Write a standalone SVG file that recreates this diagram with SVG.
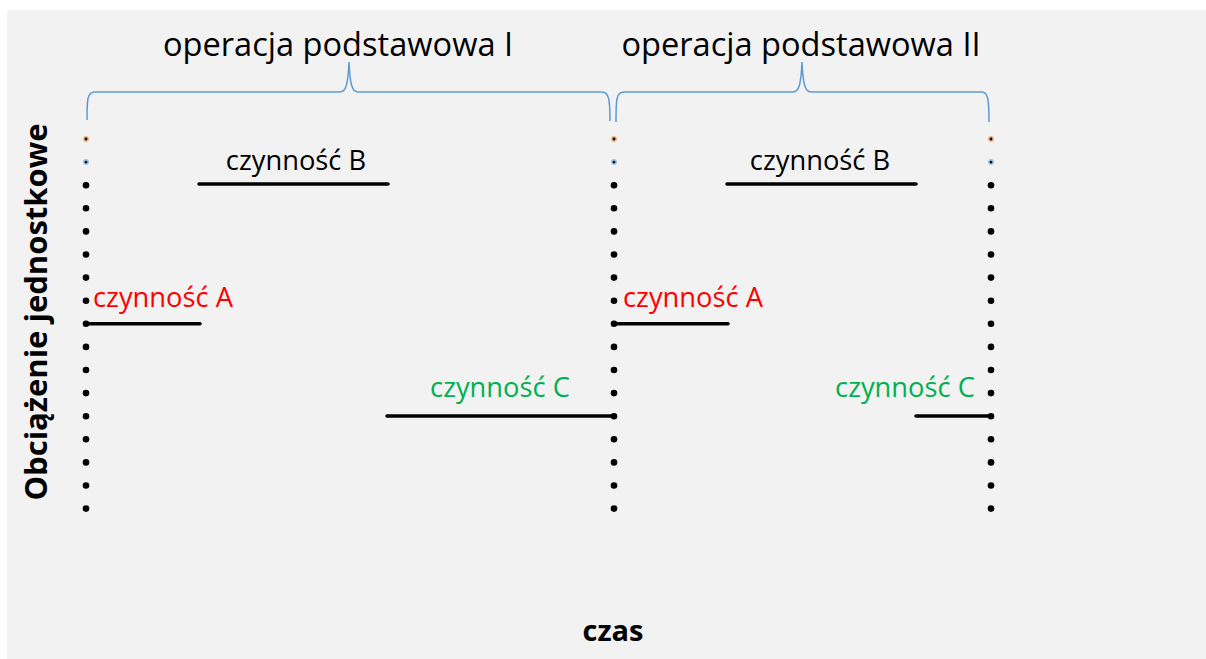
<svg xmlns="http://www.w3.org/2000/svg" width="1206" height="659" viewBox="0 0 1206 659">
  <defs>
    <style>
      .t { font-family: "Open Sans", "Liberation Sans", sans-serif; }
      .title { font-size: 32.6px; fill: #000; text-anchor: middle; }
      .act { font-size: 27.3px; text-anchor: middle; }
      .axis { font-size: 29px; font-weight: bold; fill: #000; text-anchor: middle; }
      .vaxis { font-size: 31px; }
      .brace { fill: none; stroke: #5b9bd5; stroke-width: 1.5; }
      .bar { stroke: #000; stroke-width: 3.5; stroke-linecap: round; }
      .dot { fill: #000; }
    </style>
    <!-- one column of dots marking the time boundary -->
    <g id="dotcol">
      <circle cx="0" cy="139" r="2.2" fill="#000" stroke="#f4b183" stroke-width="1.6"/>
      <circle cx="0" cy="162.1" r="2.2" fill="#000" stroke="#9dc3e6" stroke-width="1.6"/>
      <circle class="dot" cx="0" cy="185.2" r="3.3"/>
      <circle class="dot" cx="0" cy="208.3" r="3.3"/>
      <circle class="dot" cx="0" cy="231.4" r="3.3"/>
      <circle class="dot" cx="0" cy="254.5" r="3.3"/>
      <circle class="dot" cx="0" cy="277.6" r="3.3"/>
      <circle class="dot" cx="0" cy="300.7" r="3.3"/>
      <circle class="dot" cx="0" cy="323.8" r="3.3"/>
      <circle class="dot" cx="0" cy="346.9" r="3.3"/>
      <circle class="dot" cx="0" cy="370" r="3.3"/>
      <circle class="dot" cx="0" cy="393.1" r="3.3"/>
      <circle class="dot" cx="0" cy="416.2" r="3.3"/>
      <circle class="dot" cx="0" cy="439.3" r="3.3"/>
      <circle class="dot" cx="0" cy="462.4" r="3.3"/>
      <circle class="dot" cx="0" cy="485.5" r="3.3"/>
      <circle class="dot" cx="0" cy="508.6" r="3.3"/>
    </g>
  </defs>

  <rect x="0" y="0" width="1206" height="659" fill="#ffffff"/>
  <rect x="7" y="10" width="1199" height="649" fill="#f2f2f2"/>

  <!-- axis titles -->
  <text class="t axis vaxis" transform="translate(47,312) rotate(-90)">Obciążenie jednostkowe</text>
  <text class="t axis" x="613" y="641">czas</text>

  <!-- boundaries -->
  <g id="boundaries">
    <use href="#dotcol" x="86"/>
    <use href="#dotcol" x="614"/>
    <use href="#dotcol" x="991"/>
  </g>

  <!-- operation I -->
  <g id="op1">
    <path class="brace" d="M87,120 C87,100 87,92 95,92 L340,92 C346,92 348,84 349,62 C350,84 352,92 358,92 L602,92 C609,92 610,100 610,121"/>
    <text class="t title" x="338" y="56">operacja podstawowa I</text>
  </g>

  <!-- operation II -->
  <g id="op2">
    <path class="brace" d="M616,122 C616,100 616,92 624,92 L793,92 C799,92 801,84 802,62 C803,84 805,92 811,92 L982,92 C988,92 989,100 989,122"/>
    <text class="t title" x="801" y="56">operacja podstawowa II</text>
  </g>

  <!-- activities, operation I -->
  <g id="a1">
    <line class="bar" x1="86" y1="323.8" x2="200" y2="323.8"/>
    <text class="t act" x="163" y="307" fill="#ff0000">czynność A</text>
  </g>
  <g id="b1">
    <line class="bar" x1="199" y1="184" x2="388" y2="184"/>
    <text class="t act" x="296" y="170" fill="#000">czynność B</text>
  </g>
  <g id="c1">
    <line class="bar" x1="387" y1="416" x2="614" y2="416"/>
    <text class="t act" x="500" y="397" fill="#00b050">czynność C</text>
  </g>

  <!-- activities, operation II -->
  <g id="a2">
    <line class="bar" x1="614" y1="323.8" x2="728" y2="323.8"/>
    <text class="t act" x="693" y="307" fill="#ff0000">czynność A</text>
  </g>
  <g id="b2">
    <line class="bar" x1="727" y1="184" x2="916" y2="184"/>
    <text class="t act" x="820" y="170" fill="#000">czynność B</text>
  </g>
  <g id="c2">
    <line class="bar" x1="916" y1="416" x2="991" y2="416"/>
    <text class="t act" x="905" y="397" fill="#00b050">czynność C</text>
  </g>
</svg>
